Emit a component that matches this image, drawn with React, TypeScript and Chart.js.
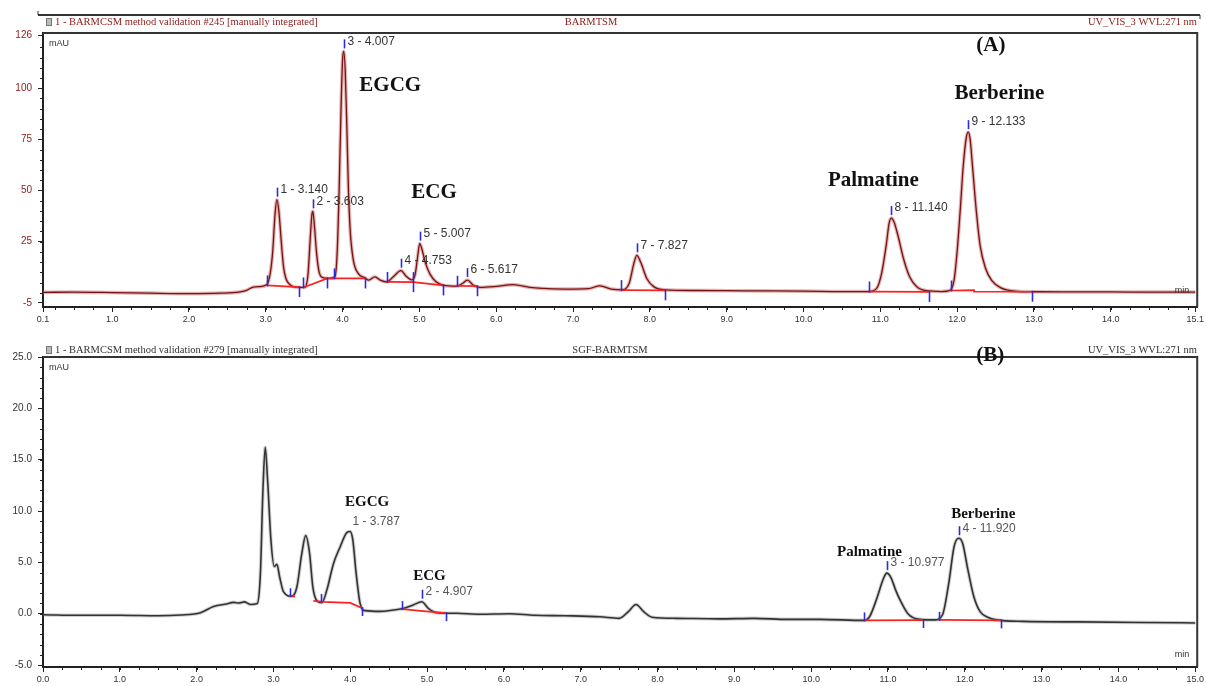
import React, { useEffect, useRef } from 'react';
import { Chart, registerables } from 'chart.js';
Chart.register(...registerables);

// ---------- Panel A (BARMTSM) ----------
const timeA = [0.1, 0.5, 1.0, 1.5, 2.0, 2.4, 2.65, 2.75, 2.84, 2.92, 3.015, 3.06, 3.09, 3.12, 3.145, 3.17, 3.2, 3.23, 3.26, 3.32, 3.43, 3.51, 3.55, 3.575, 3.6, 3.613, 3.635, 3.66, 3.69, 3.73, 3.82, 3.9, 3.93, 3.955, 3.98, 4.0, 4.015, 4.035, 4.055, 4.075, 4.1, 4.14, 4.2, 4.29, 4.34, 4.42, 4.49, 4.575, 4.66, 4.76, 4.83, 4.9, 4.945, 4.975, 5.005, 5.035, 5.075, 5.14, 5.22, 5.31, 5.48, 5.56, 5.625, 5.7, 5.79, 6.0, 6.22, 6.44, 6.6, 6.9, 7.2, 7.35, 7.5, 7.63, 7.73, 7.79, 7.83, 7.88, 7.96, 8.05, 8.2, 8.6, 9.0, 9.5, 10.0, 10.5, 10.85, 10.95, 11.02, 11.08, 11.115, 11.145, 11.18, 11.23, 11.3, 11.38, 11.48, 11.6, 11.8, 11.9, 11.96, 12.0, 12.04, 12.08, 12.12, 12.145, 12.17, 12.2, 12.25, 12.3, 12.37, 12.45, 12.57, 12.75, 13.0, 13.5, 14.0, 14.5, 15.1];
const mauA = [0.2, 0.3, 0.1, -0.2, -0.4, -0.2, 0.3, 1.2, 2.8, 3.0, 4.0, 10, 20, 38, 45.5, 40, 26, 13, 7.2, 3.8, 2.6, 2.7, 9, 24, 38, 39.8, 32, 20, 11, 7.6, 7.0, 7.8, 20, 50, 90, 114, 118, 108, 82, 52, 30, 16, 9.6, 7.3, 6.2, 7.8, 6.2, 5.3, 7.8, 10.8, 8.0, 6.3, 9, 17, 24, 21, 15, 9, 5.3, 3.7, 3.2, 4.5, 6.2, 3.8, 2.6, 3.1, 4.0, 2.6, 2.1, 1.8, 2.0, 3.4, 1.8, 1.4, 4.5, 14, 18.3, 15, 7, 3, 1.4, 1.1, 1.0, 0.9, 0.8, 0.6, 0.6, 2.0, 10, 24, 34, 36.5, 34.5, 28, 17, 8, 2.8, 1.0, 0.6, 1.0, 6, 20, 40, 62, 76, 78.5, 75, 62, 40, 23, 12, 6, 2.4, 0.8, 0.5, 0.4, 0.4, 0.3, 0.3];
const baselinesA = [
  [[3.015, 3.6], [3.43, 2.8]],
  [[3.49, 2.6], [3.8, 7.0], [4.29, 7.0]],
  [[4.575, 5.3], [4.922, 5.2], [5.31, 3.6]],
  [[5.49, 3.4], [5.75, 3.2]],
  [[7.63, 1.3], [8.2, 1.2]],
  [[10.85, 0.6], [11.64, 0.4]],
  [[11.92, 1.1], [12.22, 1.3], [12.22, 0.6], [12.97, 0.5]],
];
// integration events: [time, mAU, direction] 1 = up, -1 = down, 0 = both
const eventsA = [
  [3.015, 3.6, 1], [3.43, 2.8, -1], [3.49, 2.6, 1], [3.8, 7.0, -1], [3.89, 7.0, 1], [4.29, 7.0, -1],
  [4.575, 5.3, 1], [4.922, 5.2, 0], [5.31, 3.6, -1], [5.49, 3.4, 1], [5.75, 3.2, -1],
  [7.63, 1.3, 1], [8.2, 1.2, -1], [10.85, 0.6, 1], [11.64, 0.4, -1], [11.92, 1.1, 1], [12.97, 0.5, -1],
];
const peakTextA = ['1 - 3.140', '2 - 3.603', '3 - 4.007', '4 - 4.753', '5 - 5.007', '6 - 5.617', '7 - 7.827', '8 - 11.140', '9 - 12.133'];
const peakTimeA = [3.145, 3.613, 4.015, 4.76, 5.005, 5.625, 7.83, 11.145, 12.145];
const peakMauA = [45.5, 39.8, 118, 10.8, 24, 6.2, 18.3, 36.5, 78.5];
const compoundA = ['EGCG', 'ECG', 'Palmatine', 'Berberine', '(A)'];
const compoundTimeA = [4.62, 5.19, 10.91, 12.55, 12.44];
const compoundMauA = [101.5, 48.8, 54.6, 97.6, 121];
const yTicksA = [-5, 25, 50, 75, 100, 126];
const xTicksA = [0.1, 1, 2, 3, 4, 5, 6, 7, 8, 9, 10, 11, 12, 13, 14, 15.1];

// ---------- Panel B (SGF-BARMTSM) ----------
const timeB = [0.0, 0.5, 1.0, 1.5, 1.79, 2.05, 2.22, 2.39, 2.48, 2.55, 2.62, 2.7, 2.79, 2.83, 2.863, 2.893, 2.924, 2.967, 3.01, 3.045, 3.08, 3.13, 3.24, 3.305, 3.37, 3.42, 3.47, 3.513, 3.565, 3.63, 3.695, 3.782, 3.868, 3.955, 3.998, 4.033, 4.077, 4.128, 4.193, 4.39, 4.56, 4.69, 4.82, 4.93, 5.02, 5.125, 5.386, 5.69, 6.07, 6.4, 6.8, 7.25, 7.5, 7.62, 7.72, 7.82, 7.93, 8.25, 8.8, 9.26, 9.7, 10.11, 10.69, 10.76, 10.86, 10.94, 10.985, 11.04, 11.1, 11.16, 11.26, 11.41, 11.61, 11.71, 11.79, 11.86, 11.92, 11.97, 12.04, 12.12, 12.2, 12.3, 12.41, 12.76, 13.5, 14.3, 15.0];
const mauB = [-0.1, -0.15, -0.15, -0.2, -0.13, 0.1, 0.7, 0.95, 1.1, 1.05, 1.15, 0.9, 1.0, 3.9, 12, 16.2, 13, 7.2, 4.6, 4.8, 3.6, 2.15, 1.7, 2.6, 5.9, 7.6, 5.9, 2.6, 1.27, 1.08, 2.3, 4.9, 6.5, 7.9, 8.0, 7.2, 3.9, 1.0, 0.3, 0.23, 0.36, 0.5, 0.85, 1.17, 0.5, 0.1, 0.04, -0.05, 0.0, -0.15, -0.2, -0.3, -0.45, 0.2, 0.9, 0.2, -0.35, -0.45, -0.5, -0.45, -0.55, -0.55, -0.65, -0.3, 1.6, 3.4, 3.95, 3.5, 2.3, 1.3, 0.0, -0.55, -0.6, -0.1, 2.9, 6.5, 7.35, 6.9, 4.3, 1.6, 0.2, -0.35, -0.6, -0.75, -0.8, -0.85, -0.9];
const baselinesB = [
  [[3.2, 1.75], [3.28, 1.65]],
  [[3.52, 1.25], [3.64, 1.15], [4.0, 1.05], [4.15, 0.55]],
  [[4.68, 0.45], [4.95, 0.25], [5.25, 0.05]],
  [[10.69, -0.65], [11.46, -0.62]],
  [[11.66, -0.6], [12.47, -0.65]],
];
const eventsB = [
  [3.22, 1.7, 1], [3.62, 1.15, 1], [4.15, 0.55, -1], [4.68, 0.45, 1], [5.25, 0.05, -1],
  [10.69, -0.65, 1], [11.46, -0.62, -1], [11.66, -0.6, 1], [12.47, -0.65, -1],
];
const peakTextB = ['1 - 3.787', '2 - 4.907', '3 - 10.977', '4 - 11.920'];
const peakTimeB = [3.99, 4.93, 10.985, 11.92];
const peakMauB = [8.0, 1.17, 3.95, 7.35];
const peakTickB = [false, true, true, true];
const compoundB = ['EGCG', 'ECG', 'Palmatine', 'Berberine', '(B)'];
const compoundTimeB = [4.22, 5.03, 10.76, 12.24, 12.33];
const compoundMauB = [10.9, 3.7, 6.0, 9.7, 25.1];
const yTicksB = [-5, 0, 5, 10, 15, 20, 25];
const xTicksB = [0, 1, 2, 3, 4, 5, 6, 7, 8, 9, 10, 11, 12, 13, 14, 15];

const SANS = '"Liberation Sans", Arial, sans-serif';
const SERIF = '"Liberation Serif", "Times New Roman", serif';

function makeDecor(cfg: any) {
  return {
    id: 'decor',
    afterDatasetsDraw(chart: any) {
      const { ctx, scales } = chart;
      const x = scales.x, y = scales.y;
      ctx.save();
      ctx.strokeStyle = '#2a2ae0';
      ctx.lineWidth = 1.6;
      for (const [t, v, dir] of cfg.events) {
        const px = Math.round(x.getPixelForValue(t)) + 0.5;
        const py = y.getPixelForValue(v);
        const L = cfg.tickLen;
        let y0, y1;
        if (dir > 0) { y0 = py - L; y1 = py + 1; }
        else if (dir < 0) { y0 = py - 1; y1 = py + L; }
        else { y0 = py - L; y1 = py + L; }
        ctx.beginPath(); ctx.moveTo(px, y0); ctx.lineTo(px, y1); ctx.stroke();
      }
      // peak labels
      ctx.font = `12px ${SANS}`;
      ctx.textBaseline = 'middle';
      ctx.textAlign = 'left';
      cfg.peakText.forEach((txt: string, i: number) => {
        const px = Math.round(x.getPixelForValue(cfg.peakTime[i])) + 0.5;
        const py = y.getPixelForValue(cfg.peakMau[i]);
        if (!cfg.peakTick || cfg.peakTick[i]) {
          ctx.strokeStyle = '#2a2ae0';
          ctx.beginPath(); ctx.moveTo(px, py - 3); ctx.lineTo(px, py - 12); ctx.stroke();
        }
        ctx.fillStyle = cfg.peakColor;
        ctx.fillText(txt, px + 3, py - 10);
      });
      ctx.restore();
    },
    afterDraw(chart: any) {
      const { ctx, chartArea: ca, scales } = chart;
      const x = scales.x, y = scales.y;
      ctx.save();
      // frame
      ctx.strokeStyle = '#333';
      ctx.lineWidth = 2;
      ctx.beginPath();
      ctx.moveTo(ca.left, ca.top); ctx.lineTo(ca.right, ca.top); ctx.lineTo(ca.right, ca.bottom);
      ctx.stroke();
      // minor ticks
      ctx.lineWidth = 1;
      ctx.strokeStyle = '#222';
      for (let v = cfg.yMinorStart; v <= cfg.yMinorEnd + 1e-9; v += cfg.yMinorStep) {
        const py = Math.round(y.getPixelForValue(v)) + 0.5;
        ctx.beginPath(); ctx.moveTo(ca.left - 3, py); ctx.lineTo(ca.left, py); ctx.stroke();
      }
      for (let t = cfg.xMinorStart; t <= cfg.xMinorEnd + 1e-9; t += 0.25) {
        const px = Math.round(x.getPixelForValue(t)) + 0.5;
        ctx.beginPath(); ctx.moveTo(px, ca.bottom); ctx.lineTo(px, ca.bottom + 3); ctx.stroke();
      }
      // header
      ctx.textBaseline = 'middle';
      if (cfg.topLine) {
        ctx.lineWidth = 2;
        ctx.strokeStyle = '#333';
        ctx.beginPath(); ctx.moveTo(38, cfg.topLine); ctx.lineTo(1200, cfg.topLine); ctx.stroke();
        ctx.lineWidth = 1;
        ctx.beginPath(); ctx.moveTo(38, cfg.topLine - 4); ctx.lineTo(38, cfg.topLine); ctx.stroke();
        ctx.beginPath(); ctx.moveTo(1200, cfg.topLine); ctx.lineTo(1200, cfg.topLine + 4); ctx.stroke();
      }
      ctx.fillStyle = '#bbb';
      ctx.fillRect(46, cfg.headerY - 4, 6, 8);
      ctx.strokeStyle = '#777';
      ctx.strokeRect(46.5, cfg.headerY - 3.5, 5, 7);
      ctx.font = `10.5px ${SERIF}`;
      ctx.fillStyle = cfg.headerColor;
      ctx.textAlign = 'left';
      ctx.fillText(cfg.title, 55, cfg.headerY);
      ctx.textAlign = 'center';
      ctx.fillText(cfg.center, cfg.centerX, cfg.headerY);
      ctx.textAlign = 'right';
      ctx.fillText('UV_VIS_3 WVL:271 nm', 1197, cfg.headerY);
      // mAU and min
      ctx.font = `9px ${SANS}`;
      ctx.fillStyle = '#333';
      ctx.textAlign = 'left';
      ctx.fillText('mAU', ca.left + 6, ca.top + 11);
      ctx.textAlign = 'right';
      ctx.fillText('min', ca.right - 8, ca.bottom - cfg.minOffset);
      // compound annotations
      ctx.fillStyle = '#111';
      ctx.textAlign = 'center';
      cfg.compound.forEach((txt: string, i: number) => {
        const size = txt.startsWith('(') ? 21 : cfg.compoundSize;
        ctx.font = `bold ${size}px ${SERIF}`;
        ctx.fillText(txt, x.getPixelForValue(cfg.compoundTime[i]), y.getPixelForValue(cfg.compoundMau[i]));
      });
      ctx.restore();
    },
  };
}

function lineData(ts: number[], vs: number[]) {
  return ts.map((t, i) => ({ x: t, y: vs[i] }));
}

function segData(seg: number[][]) {
  return seg.map(([t, v]) => ({ x: t, y: v }));
}

function buildConfig(p: any) {
  return {
    type: 'line',
    data: {
      datasets: [
        ...p.baselines.map((seg: number[][]) => ({
          data: segData(seg), borderColor: '#ff2020', borderWidth: 1.7, pointRadius: 0, order: 0,
        })),
        {
          data: lineData(p.time, p.mau), borderColor: p.lineColor, borderWidth: p.lineWidth,
          pointRadius: 0, cubicInterpolationMode: 'monotone', order: 1,
        },
        {
          data: lineData(p.time, p.mau), borderColor: p.glowColor, borderWidth: 3.6,
          pointRadius: 0, cubicInterpolationMode: 'monotone', order: 2,
        },
      ],
    },
    options: {
      animation: false,
      responsive: false,
      events: [],
      layout: { padding: { left: 0, right: 8, top: p.padTop, bottom: 0 } },
      plugins: { legend: { display: false }, tooltip: { enabled: false } },
      scales: {
        x: {
          type: 'linear', min: p.xMin, max: p.xMax,
          afterBuildTicks: (s: any) => { s.ticks = p.xTicks.map((v: number) => ({ value: v })); },
          afterFit: (s: any) => { s.height = p.xHeight; },
          ticks: {
            autoSkip: false, maxRotation: 0, padding: 2, color: '#333',
            font: { family: SANS, size: 9 },
            callback: (v: any) => Number(v).toFixed(1),
          },
          grid: { drawOnChartArea: false, tickLength: 5, color: '#222', tickWidth: 1 },
          border: { color: '#222', width: 2 },
        },
        y: {
          type: 'linear', min: p.yMin, max: p.yMax,
          afterBuildTicks: (s: any) => { s.ticks = p.yTicks.map((v: number) => ({ value: v })); },
          afterFit: (s: any) => { s.width = 43; },
          ticks: {
            padding: 6, color: p.yLabelColor,
            font: { family: SANS, size: 10 },
            callback: (v: any) => p.yFmt(Number(v)),
          },
          grid: { drawOnChartArea: false, tickLength: 5, color: '#222', tickWidth: 1 },
          border: { color: '#222', width: 2 },
        },
      },
    },
    plugins: [makeDecor(p.decor)],
  };
}

const panelA = {
  time: timeA, mau: mauA, baselines: baselinesA,
  lineColor: '#7a1212', lineWidth: 1.3, glowColor: 'rgba(195,105,105,0.5)',
  padTop: 33, xHeight: 36, xMin: 0.1, xMax: 15.126, yMin: -6.96, yMax: 126.98,
  xTicks: xTicksA, yTicks: yTicksA, yLabelColor: '#8b2020', yFmt: (v: number) => String(v),
  decor: {
    events: eventsA, tickLen: 10,
    peakText: peakTextA, peakTime: peakTimeA, peakMau: peakMauA, peakColor: '#333',
    compound: compoundA, compoundTime: compoundTimeA, compoundMau: compoundMauA, compoundSize: 21,
    yMinorStart: 0, yMinorEnd: 120, yMinorStep: 5, xMinorStart: 0.25, xMinorEnd: 15.0,
    topLine: 15, headerY: 22, headerColor: '#8b1a1a',
    title: '1 - BARMCSM method validation #245 [manually integrated]', center: 'BARMTSM', centerX: 591,
    minOffset: 16,
  },
};

const panelB = {
  time: timeB, mau: mauB, baselines: baselinesB,
  lineColor: '#333333', lineWidth: 1.6, glowColor: 'rgba(120,120,120,0.35)',
  padTop: 14, xHeight: 19, xMin: 0, xMax: 15.026, yMin: -5.19, yMax: 25,
  xTicks: xTicksB, yTicks: yTicksB, yLabelColor: '#333', yFmt: (v: number) => v.toFixed(1),
  decor: {
    events: eventsB, tickLen: 8,
    peakText: peakTextB, peakTime: peakTimeB, peakMau: peakMauB, peakTick: peakTickB, peakColor: '#555',
    compound: compoundB, compoundTime: compoundTimeB, compoundMau: compoundMauB, compoundSize: 15,
    yMinorStart: -4, yMinorEnd: 24, yMinorStep: 1, xMinorStart: 0.25, xMinorEnd: 14.75,
    topLine: 0, headerY: 7, headerColor: '#333',
    title: '1 - BARMCSM method validation #279 [manually integrated]', center: 'SGF-BARMTSM', centerX: 610,
    minOffset: 12,
  },
};

function Panel({ cfg }: { cfg: any }) {
  const ref = useRef<HTMLCanvasElement | null>(null);
  useEffect(() => {
    if (!ref.current) return;
    const chart = new Chart(ref.current, buildConfig(cfg) as any);
    return () => chart.destroy();
  }, [cfg]);
  return <canvas ref={ref} width={1206} height={343} style={{ display: 'block', width: 1206, height: 343 }} />;
}

export default function App() {
  return (
    <div style={{ position: 'fixed', left: 0, top: 0, width: 1206, height: 686, background: '#fff', overflow: 'hidden' }}>
      <Panel cfg={panelA} />
      <Panel cfg={panelB} />
    </div>
  );
}
